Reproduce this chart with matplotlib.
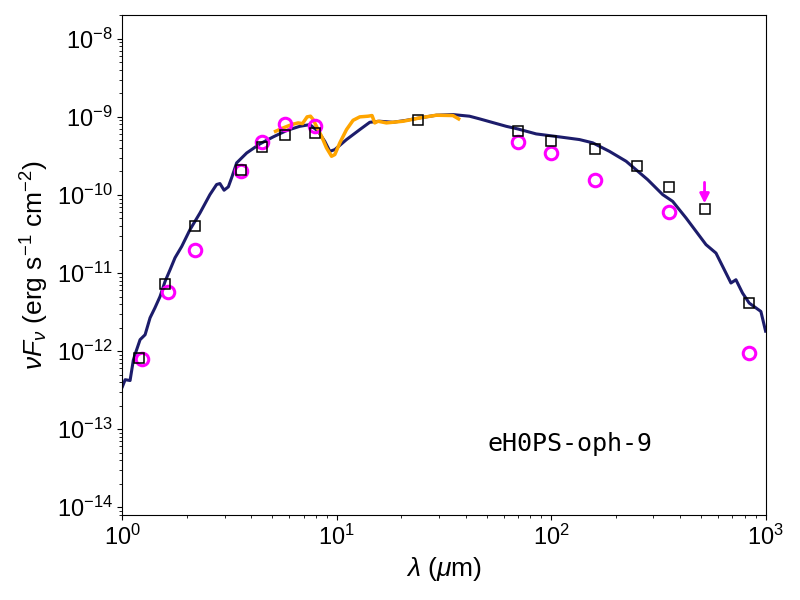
import numpy as np
import matplotlib
matplotlib.use("Agg")
import matplotlib.pyplot as plt

plt.rcParams["font.family"] = ["Liberation Sans", "DejaVu Sans"]
plt.rcParams["mathtext.fontset"] = "custom"
plt.rcParams["mathtext.rm"] = "Liberation Sans"
plt.rcParams["mathtext.it"] = "Liberation Sans:italic"

# ── Data ──────────────────────────────────────────────────────────────────────
# model SED (navy line)
model_wave = [1.00, 1.03, 1.086, 1.125, 1.158, 1.209, 1.276, 1.346, 1.419, 1.498,
              1.581, 1.668, 1.76, 1.891, 2.066, 2.30, 2.56, 2.75, 2.85, 2.98,
              3.12, 3.25, 3.41, 3.80, 4.38, 5.05, 5.83, 6.72, 7.49, 8.18,
              8.79, 9.28, 9.79, 11.10, 12.80, 14.25, 15.86, 18.29, 21.12, 24.36,
              29.13, 34.8, 41.6, 46.4, 61.7, 69.8, 85.1, 109.3, 135.5, 156.2,
              186.8, 223.6, 281.8, 331.1, 368.5, 425.5, 527.2, 586.9, 630.0, 689.2,
              727.2, 780.5, 838.8, 950.6, 1000.0]
model_flux = [3.5e-13, 4.3e-13, 4.2e-13, 7.7e-13, 9.9e-13, 1.40e-12, 1.62e-12, 2.67e-12, 3.59e-12, 5.0e-12,
              7.8e-12, 1.10e-11, 1.57e-11, 2.19e-11, 3.59e-11, 5.87e-11, 1.01e-10, 1.36e-10, 1.40e-10, 1.15e-10,
              1.27e-10, 1.73e-10, 2.57e-10, 3.45e-10, 4.51e-10, 5.54e-10, 6.68e-10, 7.57e-10, 7.96e-10, 6.53e-10,
              4.86e-10, 3.62e-10, 3.81e-10, 5.12e-10, 6.87e-10, 8.53e-10, 8.79e-10, 8.53e-10, 9.04e-10, 9.70e-10,
              1.05e-9, 1.07e-9, 1.02e-9, 9.42e-10, 7.57e-10, 7.01e-10, 6.05e-10, 5.54e-10, 5.12e-10, 4.65e-10,
              3.62e-10, 2.70e-10, 1.57e-10, 1.01e-10, 8.28e-11, 5.07e-11, 2.31e-11, 1.80e-11, 1.22e-11, 7.45e-12,
              8.2e-12, 5.54e-12, 4.12e-12, 3.22e-12, 1.8e-12]

# IRS spectrum (orange)
irs_wave = [5.18, 5.62, 6.15, 6.60, 6.92, 7.27, 7.54, 7.76, 8.04, 8.49,
            8.95, 9.45, 9.79, 10.33, 11.10, 11.91, 12.80, 13.99, 14.60, 15.03,
            15.57, 17.04, 20.37, 24.36, 29.13, 34.8, 37.0]
irs_flux = [6.53e-10, 7.22e-10, 7.96e-10, 8.37e-10, 8.20e-10, 1.0e-9, 1.02e-9, 9.23e-10, 7.57e-10, 5.64e-10,
            4.01e-10, 3.13e-10, 3.29e-10, 4.65e-10, 6.87e-10, 9.04e-10, 1.0e-9, 1.02e-9, 1.04e-9, 8.37e-10,
            8.79e-10, 8.37e-10, 8.79e-10, 9.70e-10, 1.05e-9, 1.04e-9, 9.42e-10]

# photometry (open squares)
phot_wave = [1.2, 1.585, 2.19, 3.57, 4.49, 5.74, 7.9, 23.9, 69.9, 100, 160, 250, 355, 519, 841]
phot_flux = [8.1e-13, 7.3e-12, 4.0e-11, 2.07e-10, 4.16e-10, 5.93e-10, 6.2e-10, 9.0e-10,
             6.6e-10, 4.92e-10, 3.9e-10, 2.35e-10, 1.27e-10, 6.6e-11, 4.1e-12]

# second photometry set (magenta circles)
circ_wave = [1.23, 1.63, 2.17, 3.57, 4.49, 5.74, 7.9, 70, 100, 160, 355, 841]
circ_flux = [7.9e-13, 5.7e-12, 1.97e-11, 2.04e-10, 4.8e-10, 8.2e-10, 7.6e-10,
             4.7e-10, 3.45e-10, 1.56e-10, 6.0e-11, 9.4e-13]

# upper limit arrow
ulim_wave = 519
ulim_top, ulim_tip = 1.45e-10, 7.8e-11

# ── Figure ────────────────────────────────────────────────────────────────────
fig, ax = plt.subplots(figsize=(8, 6), dpi=100)
fig.subplots_adjust(left=0.153, right=0.957, top=0.9745, bottom=0.142)

ax.plot(model_wave, model_flux, color="#1c1c6b", lw=2.2, zorder=2)
ax.plot(irs_wave, irs_flux, color="orange", lw=2.5, zorder=3)
ax.plot(circ_wave, circ_flux, "o", mfc="none", mec="magenta", mew=2.2, ms=9, zorder=4)
ax.plot(phot_wave, phot_flux, "s", mfc="none", mec="black", mew=1.1, ms=7, zorder=5)
ax.annotate("", xy=(ulim_wave, ulim_tip), xytext=(ulim_wave, ulim_top),
            arrowprops=dict(arrowstyle="-|>", color="magenta", lw=2,
                            mutation_scale=14, shrinkA=0, shrinkB=0))

ax.set_xscale("log")
ax.set_yscale("log")
ax.set_xlim(1, 1000)
ax.set_ylim(8e-15, 2e-8)

ax.set_xlabel(r"$\lambda$ ($\mu$m)", fontsize=19)
ax.set_ylabel(r"$\nu F_\nu$ (erg s$^{-1}$ cm$^{-2}$)", fontsize=19)
ax.tick_params(labelsize=17)

ax.text(0.567, 0.142, "eH0PS-oph-9", transform=ax.transAxes, fontsize=18,
        family="DejaVu Sans Mono", ha="left", va="center")

fig.savefig("out.png", dpi=100)
